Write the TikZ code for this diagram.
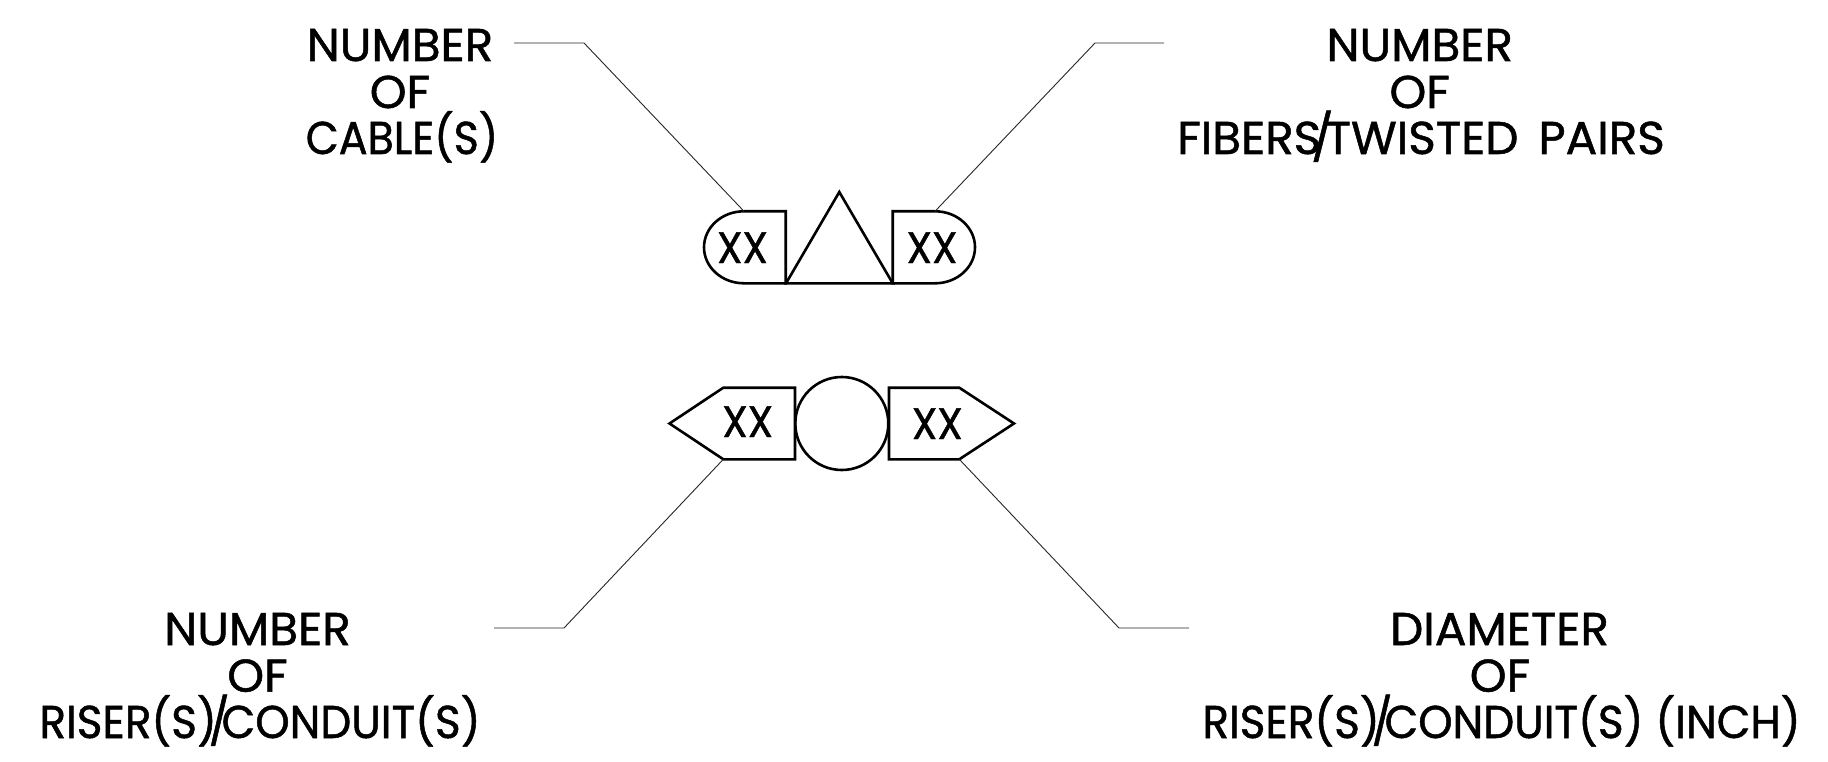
\documentclass[tikz,border=0pt]{standalone}
\usepackage{fontspec}
\setmainfont{Poppins}[FakeStretch=1.02,FakeBold=1.1]
\newfontfamily\narrowfont{Poppins}[FakeStretch=0.93,FakeBold=1.1]
\newfontfamily\midfont{Poppins}[FakeStretch=0.95,FakeBold=1.1]
\tikzset{
  shape line/.style={draw=black,line width=2.6pt,line join=miter},
  leader/.style={draw=black!85,line width=0.9pt},
  lbl/.style={anchor=base,inner sep=0pt,font=\fontsize{46}{46}\selectfont},
  nlbl/.style={anchor=base,inner sep=0pt,font=\fontsize{46}{46}\narrowfont},
  mlbl/.style={anchor=base,inner sep=0pt,font=\fontsize{46}{46}\midfont},
  xx/.style={anchor=base,inner sep=0pt,font=\fontsize{44}{44}\narrowfont},
}
\begin{document}
\begin{tikzpicture}[x=1pt,y=-1pt]
\useasboundingbox (0,0) rectangle (1828,762);
% anchors
\coordinate (tl) at (744,211.3);
\coordinate (tr) at (935,211.3);
\coordinate (bl) at (723.3,459.3);
\coordinate (br) at (959.3,459.3);
\coordinate (tlA) at (514,43); \coordinate (tlB) at (584,43);
\coordinate (trA) at (1164,43); \coordinate (trB) at (1095,43);
\coordinate (blA) at (494,628); \coordinate (blB) at (564,628);
\coordinate (brA) at (1189,628); \coordinate (brB) at (1119,628);
% shapes
\path[shape line] (tl) -- (785.7,211.3) -- (785.7,283.3) -- (744,283.3) arc[start angle=90,end angle=270,x radius=40,y radius=36] -- cycle;
\path[shape line] (786,283.3) -- (839.3,192) -- (892.7,283.3) -- cycle;
\path[shape line] (tr) -- (892.7,211.3) -- (892.7,283.3) -- (935,283.3) arc[start angle=90,end angle=-90,x radius=40,y radius=36] -- cycle;
\path[shape line] (669.5,423.5) -- (723.3,387.7) -- (795,387.7) -- (795,459.3) -- (bl) -- cycle;
\node[shape line,circle,minimum size=93pt,inner sep=0pt] (circ) at (841.8,423.5) {};
\path[shape line] (1014,423.5) -- (959.3,387.7) -- (889,387.7) -- (889,459.3) -- (br) -- cycle;
% XX
\node[xx] (x1) at (742.5,263) {XX};
\node[xx] (x2) at (932,263) {XX};
\node[xx] (x3) at (747.7,437) {XX};
\node[xx] (x4) at (937.3,439) {XX};
% leaders
\draw[leader] (tlA) -- (tlB) -- (tl);
\draw[leader] (trA) -- (trB) -- (tr);
\draw[leader] (blA) -- (blB) -- (bl);
\draw[leader] (brA) -- (brB) -- (br);
% labels
\node[lbl] (a1) at (400,61) {NUMBER};
\node[lbl] (a2) at (400,108) {OF};
\node[nlbl] (a3) at (402,154) {CABLE(S)};
\node[lbl] (b1) at (1419.7,61) {NUMBER};
\node[lbl] (b2) at (1419.7,108) {OF};
\node[lbl] (b3) at (1421,154) {FIBERS\kern-10pt/\kern-8pt TWISTED\kern 20pt PAIRS};
\node[lbl] (c1) at (257.5,645) {NUMBER};
\node[lbl] (c2) at (257.5,691.7) {OF};
\node[mlbl] (c3) at (260,738) {RISER(S)\kern-8pt/\kern-8pt CONDUIT(S)};
\node[lbl] (d1) at (1499.5,645) {DIAMETER};
\node[lbl] (d2) at (1500,691.7) {OF};
\node[mlbl] (d3) at (1501.5,738) {RISER(S)\kern-8pt/\kern-8pt CONDUIT(S)\kern 12pt (INCH)};
\end{tikzpicture}
\end{document}
